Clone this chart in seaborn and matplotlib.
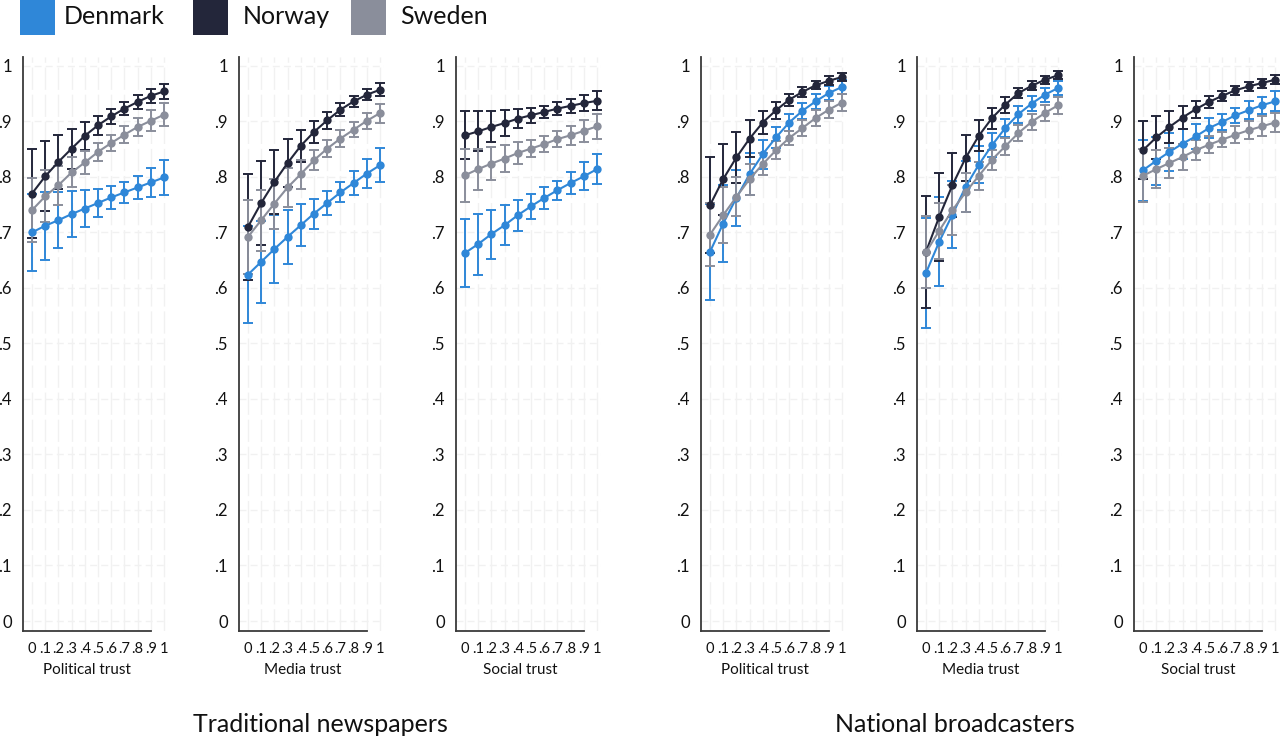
import numpy as np
import pandas as pd
import matplotlib
matplotlib.use("Agg")
import matplotlib.pyplot as plt
import seaborn as sns
from matplotlib.patches import Rectangle

# ---------------- data ----------------
x_levels = [0, .1, .2, .3, .4, .5, .6, .7, .8, .9, 1]
x_ticklabels = ["0", ".1", ".2", ".3", ".4", ".5", ".6", ".7", ".8", ".9", "1"]
y_levels = [0, .1, .2, .3, .4, .5, .6, .7, .8, .9, 1]
y_ticklabels = ["0", ".1", ".2", ".3", ".4", ".5", ".6", ".7", ".8", ".9", "1"]
countries = ["Denmark", "Norway", "Sweden"]
panel_titles = ["Political trust", "Media trust", "Social trust",
                "Political trust", "Media trust", "Social trust"]
group_titles = ["Traditional newspapers", "National broadcasters"]

# Traditional newspapers - Political trust
news_pol_dk = [0.700, 0.712, 0.722, 0.733, 0.743, 0.753, 0.763, 0.772, 0.781, 0.790, 0.799]
news_pol_dk_ci = [0.070, 0.061, 0.050, 0.041, 0.033, 0.025, 0.020, 0.019, 0.021, 0.026, 0.031]
news_pol_no = [0.770, 0.801, 0.827, 0.851, 0.874, 0.893, 0.909, 0.923, 0.935, 0.946, 0.954]
news_pol_no_ci = [0.080, 0.063, 0.048, 0.036, 0.025, 0.017, 0.014, 0.012, 0.012, 0.013, 0.014]
news_pol_se = [0.740, 0.765, 0.785, 0.808, 0.826, 0.845, 0.861, 0.876, 0.890, 0.901, 0.912]
news_pol_se_ci = [0.058, 0.047, 0.035, 0.027, 0.020, 0.016, 0.014, 0.015, 0.016, 0.019, 0.021]

# Traditional newspapers - Media trust
news_med_dk = [0.624, 0.647, 0.670, 0.692, 0.713, 0.734, 0.753, 0.772, 0.789, 0.806, 0.821]
news_med_dk_ci = [0.087, 0.074, 0.061, 0.049, 0.038, 0.027, 0.021, 0.018, 0.022, 0.026, 0.031]
news_med_no = [0.710, 0.753, 0.791, 0.825, 0.856, 0.881, 0.902, 0.921, 0.936, 0.948, 0.957]
news_med_no_ci = [0.095, 0.075, 0.058, 0.043, 0.029, 0.020, 0.015, 0.012, 0.010, 0.010, 0.012]
news_med_se = [0.692, 0.722, 0.752, 0.781, 0.805, 0.830, 0.851, 0.869, 0.885, 0.901, 0.915]
news_med_se_ci = [0.067, 0.055, 0.045, 0.035, 0.026, 0.018, 0.015, 0.015, 0.014, 0.015, 0.017]

# Traditional newspapers - Social trust
news_soc_dk = [0.663, 0.679, 0.697, 0.713, 0.731, 0.747, 0.762, 0.776, 0.789, 0.801, 0.814]
news_soc_dk_ci = [0.062, 0.055, 0.044, 0.036, 0.028, 0.022, 0.020, 0.017, 0.020, 0.025, 0.027]
news_soc_no = [0.875, 0.882, 0.890, 0.897, 0.905, 0.911, 0.917, 0.923, 0.928, 0.933, 0.937]
news_soc_no_ci = [0.043, 0.036, 0.028, 0.023, 0.017, 0.014, 0.011, 0.012, 0.013, 0.015, 0.017]
news_soc_se = [0.803, 0.814, 0.824, 0.833, 0.843, 0.851, 0.859, 0.868, 0.875, 0.883, 0.891]
news_soc_se_ci = [0.048, 0.037, 0.030, 0.025, 0.020, 0.016, 0.014, 0.015, 0.017, 0.020, 0.023]

# National broadcasters - Political trust
bc_pol_dk = [0.665, 0.716, 0.762, 0.805, 0.841, 0.871, 0.898, 0.919, 0.936, 0.951, 0.962]
bc_pol_dk_ci = [0.086, 0.069, 0.051, 0.038, 0.026, 0.019, 0.015, 0.014, 0.014, 0.012, 0.013]
bc_pol_no = [0.749, 0.796, 0.835, 0.869, 0.898, 0.920, 0.939, 0.953, 0.965, 0.973, 0.980]
bc_pol_no_ci = [0.086, 0.064, 0.046, 0.033, 0.021, 0.015, 0.011, 0.009, 0.007, 0.008, 0.007]
bc_pol_se = [0.696, 0.731, 0.764, 0.796, 0.823, 0.848, 0.870, 0.888, 0.906, 0.921, 0.934]
bc_pol_se_ci = [0.057, 0.050, 0.035, 0.028, 0.020, 0.016, 0.013, 0.014, 0.015, 0.015, 0.015]

# National broadcasters - Media trust
bc_med_dk = [0.627, 0.683, 0.732, 0.782, 0.822, 0.857, 0.888, 0.913, 0.932, 0.948, 0.960]
bc_med_dk_ci = [0.099, 0.080, 0.060, 0.046, 0.033, 0.022, 0.017, 0.015, 0.014, 0.013, 0.012]
bc_med_no = [0.665, 0.728, 0.785, 0.834, 0.874, 0.906, 0.930, 0.951, 0.964, 0.975, 0.983]
bc_med_no_ci = [0.101, 0.079, 0.058, 0.041, 0.028, 0.019, 0.014, 0.009, 0.008, 0.007, 0.007]
bc_med_se = [0.664, 0.703, 0.740, 0.772, 0.802, 0.831, 0.855, 0.879, 0.899, 0.915, 0.929]
bc_med_se_ci = [0.065, 0.050, 0.045, 0.035, 0.025, 0.018, 0.015, 0.014, 0.014, 0.014, 0.015]

# National broadcasters - Social trust
bc_soc_dk = [0.812, 0.829, 0.845, 0.860, 0.873, 0.888, 0.899, 0.911, 0.920, 0.929, 0.936]
bc_soc_dk_ci = [0.055, 0.043, 0.034, 0.027, 0.022, 0.018, 0.015, 0.014, 0.016, 0.015, 0.018]
bc_soc_no = [0.848, 0.871, 0.890, 0.907, 0.922, 0.935, 0.946, 0.956, 0.963, 0.969, 0.975]
bc_soc_no_ci = [0.052, 0.038, 0.029, 0.021, 0.015, 0.011, 0.009, 0.008, 0.008, 0.008, 0.008]
bc_soc_se = [0.802, 0.814, 0.825, 0.836, 0.848, 0.858, 0.867, 0.876, 0.884, 0.891, 0.898]
bc_soc_se_ci = [0.048, 0.034, 0.027, 0.023, 0.018, 0.015, 0.014, 0.015, 0.016, 0.018, 0.018]

panels = [
    {"Denmark": (news_pol_dk, news_pol_dk_ci), "Norway": (news_pol_no, news_pol_no_ci), "Sweden": (news_pol_se, news_pol_se_ci)},
    {"Denmark": (news_med_dk, news_med_dk_ci), "Norway": (news_med_no, news_med_no_ci), "Sweden": (news_med_se, news_med_se_ci)},
    {"Denmark": (news_soc_dk, news_soc_dk_ci), "Norway": (news_soc_no, news_soc_no_ci), "Sweden": (news_soc_se, news_soc_se_ci)},
    {"Denmark": (bc_pol_dk, bc_pol_dk_ci), "Norway": (bc_pol_no, bc_pol_no_ci), "Sweden": (bc_pol_se, bc_pol_se_ci)},
    {"Denmark": (bc_med_dk, bc_med_dk_ci), "Norway": (bc_med_no, bc_med_no_ci), "Sweden": (bc_med_se, bc_med_se_ci)},
    {"Denmark": (bc_soc_dk, bc_soc_dk_ci), "Norway": (bc_soc_no, bc_soc_no_ci), "Sweden": (bc_soc_se, bc_soc_se_ci)},
]

palette = {"Denmark": "#2F87D8", "Norway": "#23263A", "Sweden": "#8A8E9B"}

# ---------------- style ----------------
sns.set_style("white")
plt.rcParams["font.family"] = ["Lato", "DejaVu Sans"]

W, H = 1280, 740
fig = plt.figure(figsize=(W / 100, H / 100), dpi=100)

spine_x = [23, 239, 456, 701, 917, 1134]
xlim = (-0.068, 1.03)
ylim = (-0.018, 1.016)
px_per_unit = 132.0
ax_w = (xlim[1] - xlim[0]) * px_per_unit
ax_top, ax_bot = 57, 631
axis_col = "#3a3a3a"
grid_col = "#f1f1f1"
label_x = ((0.9 + xlim[0]) / 2 - xlim[0]) / (xlim[1] - xlim[0])

for i, sx in enumerate(spine_x):
    ax = fig.add_axes([sx / W, (H - ax_bot) / H, ax_w / W, (ax_bot - ax_top) / H])
    ax.set_xlim(*xlim)
    ax.set_ylim(*ylim)
    # grid
    for xv in x_levels:
        ax.axvline(xv, color=grid_col, lw=1.0, dashes=(16, 3.5), zorder=0)
    for yv in y_levels:
        ax.axhline(yv, color=grid_col, lw=1.0, dashes=(5, 3), zorder=0)

    rows = []
    for c in countries:
        vals, ci = panels[i][c]
        ax.errorbar(x_levels, vals, yerr=ci, fmt="none", ecolor=palette[c],
                    elinewidth=1.4, capsize=3.5, capthick=1.4, zorder=2)
        for xv, yv in zip(x_levels, vals):
            rows.append({"x": xv, "y": yv, "country": c})
    df = pd.DataFrame(rows)
    sns.lineplot(data=df, x="x", y="y", hue="country", hue_order=countries,
                 palette=palette, marker="o", markersize=6, markeredgewidth=0,
                 linewidth=1.5, ax=ax, legend=False, zorder=3)

    for s in ["top", "right"]:
        ax.spines[s].set_visible(False)
    for s in ["left", "bottom"]:
        ax.spines[s].set_color(axis_col)
        ax.spines[s].set_linewidth(1.3)
    ax.spines["bottom"].set_bounds(xlim[0], 0.9)
    ax.spines["left"].set_bounds(ylim[0], ylim[1])

    ax.set_xticks(x_levels)
    ax.set_xticklabels(x_ticklabels)
    ax.set_yticks(y_levels)
    ax.set_yticklabels(y_ticklabels)
    ax.tick_params(axis="x", direction="out", length=6, width=1.2, color=axis_col,
                   labelsize=10.5, pad=2, labelcolor="#111111")
    ax.tick_params(axis="y", direction="out", length=6, width=1.2, color=axis_col,
                   labelsize=12, pad=2, labelcolor="#111111")
    ax.set_ylabel("")
    ax.set_xlabel(panel_titles[i], fontsize=11, color="#111111")
    ax.xaxis.set_label_coords(label_x, -0.055)
    ax.set_facecolor("none")

# group titles
fig.text(320 / W, 1 - 724 / H, group_titles[0], ha="center", va="center", fontsize=18, color="#111111")
fig.text(955 / W, 1 - 724 / H, group_titles[1], ha="center", va="center", fontsize=18, color="#111111")

# legend (manual)
leg_patch_x = [20, 193, 351]
leg_text_x = [64, 243, 400]
for c, px, tx in zip(countries, leg_patch_x, leg_text_x):
    fig.patches.append(Rectangle((px / W, 1 - 35 / H), 35 / W, 36 / H,
                                 transform=fig.transFigure, facecolor=palette[c],
                                 edgecolor="none"))
    fig.text(tx / W, 1 - 17 / H, c, ha="left", va="center", fontsize=18, color="#111111")

fig.savefig("out.png", dpi=100)
